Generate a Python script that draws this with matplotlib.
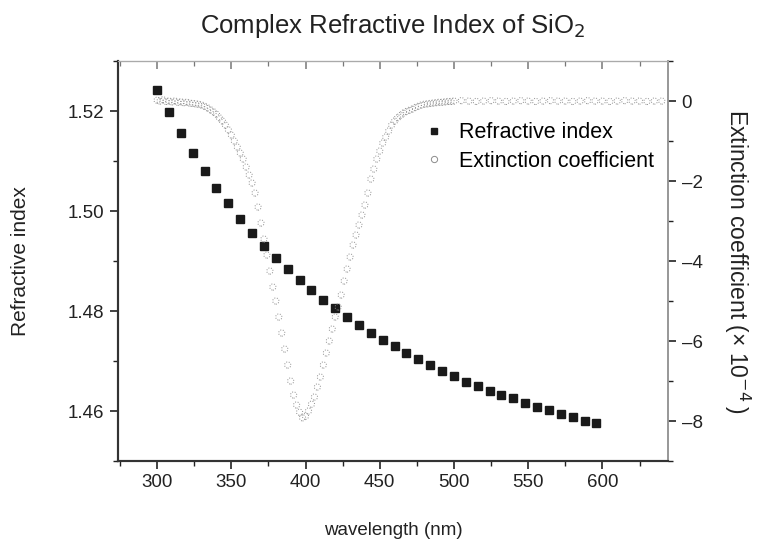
import matplotlib.pyplot as plt
from matplotlib.ticker import MultipleLocator
from matplotlib.lines import Line2D

plt.rcParams['font.family'] = ['Liberation Sans', 'DejaVu Sans']

# refractive index (squares)
wl_n = [300, 308, 316, 324, 332, 340, 348, 356, 364, 372, 380, 388, 396, 404,
        412, 420, 428, 436, 444, 452, 460, 468, 476, 484, 492, 500, 508, 516,
        524, 532, 540, 548, 556, 564, 572, 580, 588, 596]
n_vals = [1.5243, 1.5198, 1.5156, 1.5116, 1.5081, 1.5047, 1.5016, 1.4985,
          1.4957, 1.4931, 1.4906, 1.4884, 1.4863, 1.4843, 1.4823, 1.4806,
          1.4789, 1.4773, 1.4757, 1.4743, 1.4730, 1.4716, 1.4704, 1.4693,
          1.4680, 1.4670, 1.4658, 1.4651, 1.4641, 1.4633, 1.4627, 1.4617,
          1.4609, 1.4602, 1.4594, 1.4588, 1.4581, 1.4576]

# extinction coefficient (x 1e-4, open rings)
wl_k = [300, 302, 304, 306, 308, 310, 312, 314, 316, 318, 320, 322, 324, 326,
        328, 330, 332, 334, 336, 338, 340, 342, 344, 346, 348, 350, 352, 354,
        356, 358, 360, 362, 364, 366, 368, 370, 372, 374, 376, 378, 380, 382,
        384, 386, 388, 390, 392, 394, 396, 398, 400, 402, 404, 406, 408, 410,
        412, 414, 416, 418, 420, 422, 424, 426, 428, 430, 432, 434, 436, 438,
        440, 442, 444, 446, 448, 450, 452, 454, 456, 458, 460, 462, 464, 466,
        468, 470, 472, 474, 476, 478, 480, 482, 484, 486, 488, 490, 492, 494,
        496, 498, 500,
        505, 510, 515, 520, 525, 530, 535, 540, 545, 550, 555, 560, 565, 570,
        575, 580, 585, 590, 595, 600, 605, 610, 615, 620, 625, 630, 635, 640]
k_vals = [0.02, 0.0, 0.03, -0.01, 0.0, -0.02, 0.0, -0.03, -0.02, -0.04,
          -0.03, -0.05, -0.06, -0.07, -0.08, -0.10, -0.13, -0.17, -0.22, -0.27,
          -0.33, -0.42, -0.50, -0.60, -0.72, -0.85, -1.00, -1.15, -1.30, -1.45,
          -1.65, -1.85, -2.05, -2.30, -2.65, -3.05, -3.45, -3.85, -4.25, -4.65,
          -5.00, -5.40, -5.80, -6.20, -6.60, -7.00, -7.35, -7.60, -7.78, -7.92,
          -7.88, -7.75, -7.58, -7.40, -7.15, -6.90, -6.60, -6.30, -6.00, -5.70,
          -5.40, -5.15, -4.85, -4.50, -4.20, -3.90, -3.60, -3.35, -3.10, -2.85,
          -2.60, -2.30, -1.95, -1.70, -1.45, -1.25, -1.05, -0.90, -0.75, -0.60,
          -0.50, -0.42, -0.36, -0.30, -0.26, -0.23, -0.20, -0.16, -0.13, -0.10,
          -0.08, -0.07, -0.06, -0.05, -0.04, -0.03, -0.03, -0.02, -0.01, -0.01,
          0.0,
          0.01, 0.0, -0.01, 0.0, 0.01, 0.0, -0.01, 0.0, 0.01, 0.0, -0.01, 0.0,
          0.01, 0.0, 0.0, -0.01, 0.0, 0.01, 0.0, 0.0, -0.01, 0.0, 0.01, 0.0,
          0.0, -0.01, 0.0, 0.0]

fig = plt.figure(figsize=(7.61, 5.43), dpi=100)
ax = fig.add_axes([0.1547, 0.151, 0.7237, 0.7366])
ax2 = ax.twinx()

ax.plot(wl_n, n_vals, 's', color='#1a1a1a', ms=5.3, zorder=3)
ax2.scatter(wl_k, k_vals, s=20, facecolors='none', edgecolors='#8c8c8c',
            linewidths=0.7, linestyle=':')

ax.set_xlim(273.5, 644.5)
ax.set_ylim(1.45, 1.53)
ax2.set_ylim(-9, 1)

ax.xaxis.set_major_locator(MultipleLocator(50))
ax.xaxis.set_minor_locator(MultipleLocator(25))
ax.yaxis.set_major_locator(MultipleLocator(0.02))
ax.yaxis.set_minor_locator(MultipleLocator(0.01))
ax.yaxis.set_major_formatter(plt.FormatStrFormatter('%.2f'))
ax2.yaxis.set_major_locator(MultipleLocator(2))
ax2.yaxis.set_minor_locator(MultipleLocator(1))
ax2.yaxis.set_major_formatter(plt.FuncFormatter(lambda v, p: f'{v:.0f}'.replace('-', '\u2013')))

ax.tick_params(which='both', direction='out', labelsize=13.5, colors='#222222')
ax.tick_params(which='major', length=6, width=1.2)
ax.tick_params(which='minor', length=3.5, width=1.0)
ax2.tick_params(which='both', direction='out', labelsize=13.5, colors='#222222')
ax2.tick_params(which='major', length=6, width=1.2)
ax2.tick_params(which='minor', length=3.5, width=1.0)

# top axis: inward ticks, no labels
top = ax.secondary_xaxis('top')
top.xaxis.set_major_locator(MultipleLocator(50))
top.xaxis.set_minor_locator(MultipleLocator(25))
top.tick_params(which='both', direction='in', labeltop=False, colors='#777777')
top.tick_params(which='major', length=6, width=1.1)
top.tick_params(which='minor', length=3.5, width=0.9)
top.spines['top'].set_color('#aaaaaa')

for a in (ax, ax2):
    a.spines['left'].set_color('#333333')
    a.spines['left'].set_linewidth(1.5)
    a.spines['bottom'].set_color('#333333')
    a.spines['bottom'].set_linewidth(1.5)
    a.spines['top'].set_color('#aaaaaa')
    a.spines['right'].set_color('#999999')
    a.spines['right'].set_linewidth(1.3)

ax.set_xlabel('wavelength (nm)', fontsize=13.5, color='#222222', labelpad=22)
ax.set_ylabel('Refractive index', fontsize=15, color='#222222', labelpad=27)
ax2.set_ylabel('Extinction coefficient (\u00d7 10$^{\u22124}$\u2009)', fontsize=16.5,
               color='#222222', rotation=270, labelpad=36)
fig.text(0.516, 0.952, 'Complex Refractive Index of SiO$_2$', fontsize=18.5,
         ha='center', va='center', color='#222222')

handles = [Line2D([], [], ls='none', marker='s', color='#1a1a1a', ms=5),
           Line2D([], [], ls='none', marker='o', mfc='none', mec='#8c8c8c', ms=4.5, mew=0.7)]
ax2.legend(handles, ['Refractive index', 'Extinction coefficient'],
           loc='upper left', bbox_to_anchor=(0.515, 0.895), frameon=False,
           fontsize=15.5, handletextpad=0.6, labelspacing=0.35, handlelength=1.2)

fig.savefig('out.png', dpi=100)
